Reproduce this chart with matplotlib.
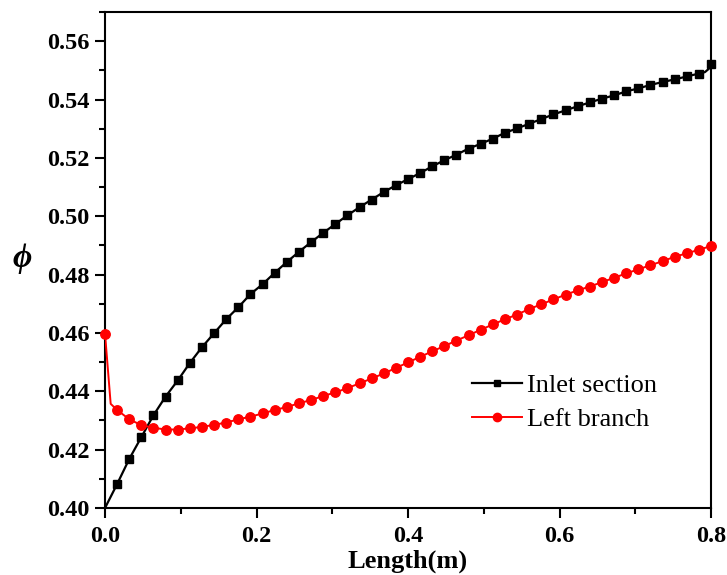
import matplotlib
matplotlib.use("Agg")
import matplotlib.pyplot as plt
from matplotlib.ticker import MultipleLocator
import numpy as np

# Data (x spacing 0.016 m, 51 points)
step = 0.016
length = [round(step * k, 3) for k in range(51)]

inlet_section = [0.4000, 0.4082, 0.4168, 0.4243, 0.4318, 0.4382, 0.4437, 0.4497,
                 0.4551, 0.4599, 0.4647, 0.4688, 0.4733, 0.4767, 0.4806, 0.4843,
                 0.4878, 0.4911, 0.4943, 0.4973, 0.5003, 0.5031, 0.5057, 0.5083,
                 0.5106, 0.5127, 0.5148, 0.5171, 0.5192, 0.5211, 0.5232, 0.5248,
                 0.5266, 0.5286, 0.5301, 0.5317, 0.5333, 0.5349, 0.5363, 0.5377,
                 0.5390, 0.5403, 0.5414, 0.5428, 0.5438, 0.5450, 0.5460, 0.5469,
                 0.5479, 0.5489, 0.5523]

left_branch = [0.4598, 0.4336, 0.4304, 0.4284, 0.4275, 0.4269, 0.4269, 0.4273,
               0.4278, 0.4285, 0.4293, 0.4304, 0.4313, 0.4324, 0.4336, 0.4346,
               0.4359, 0.4370, 0.4384, 0.4396, 0.4411, 0.4427, 0.4444, 0.4461,
               0.4480, 0.4499, 0.4518, 0.4537, 0.4555, 0.4574, 0.4592, 0.4611,
               0.4629, 0.4647, 0.4663, 0.4682, 0.4698, 0.4715, 0.4731, 0.4746,
               0.4759, 0.4774, 0.4789, 0.4804, 0.4818, 0.4832, 0.4846, 0.4861,
               0.4873, 0.4885, 0.4898]

# extra unmarked line points (sharp bends near the ends)
inlet_extra_x = [0.792, 0.797]
inlet_extra_y = [0.5494, 0.5505]
left_extra_x = [0.0075]
left_extra_y = [0.4357]

plt.rcParams['font.family'] = ['Liberation Serif', 'DejaVu Serif']

fig = plt.figure(figsize=(7.27, 5.75), dpi=100)
ax = fig.add_axes([105/727, 1-508/575, (711-105)/727, (508-12)/575])

# Inlet section
ix = length[:-1] + inlet_extra_x + [length[-1]]
iy = inlet_section[:-1] + inlet_extra_y + [inlet_section[-1]]
ax.plot(ix, iy, color='black', lw=1.6, zorder=3)
ax.plot(length[1:], inlet_section[1:], ls='none', marker='s', ms=6.2,
        color='black', zorder=4, clip_on=False)

# Left branch
lx = [length[0]] + left_extra_x + length[1:]
ly = [left_branch[0]] + left_extra_y + left_branch[1:]
ax.plot(lx, ly, color='#ff0000', lw=1.4, zorder=3)
ax.plot(length, left_branch, ls='none', marker='o', ms=6.8,
        color='#ff0000', zorder=4, clip_on=False)

# legend proxies
h1, = ax.plot([], [], color='black', lw=1.6, marker='s', ms=5)
h2, = ax.plot([], [], color='#ff0000', lw=1.4, marker='o', ms=6)
leg = ax.legend([h1, h2], ['Inlet section', 'Left branch'],
                loc='upper left', bbox_to_anchor=(472/727, 1-374/575),
                bbox_transform=fig.transFigure, frameon=False,
                prop={'family': 'Liberation Serif', 'size': 19},
                handlelength=1.9, handletextpad=0.2, borderpad=0,
                borderaxespad=0, labelspacing=0.4)

ax.set_xlim(0, 0.8)
ax.set_ylim(0.40, 0.57)
ax.xaxis.set_minor_locator(MultipleLocator(0.1))
ax.yaxis.set_minor_locator(MultipleLocator(0.01))
ax.set_yticks([0.40, 0.42, 0.44, 0.46, 0.48, 0.50, 0.52, 0.54, 0.56])
ax.set_xticks([0.0, 0.2, 0.4, 0.6, 0.8])
ax.set_xticklabels(['0.0', '0.2', '0.4', '0.6', '0.8'])
ax.set_yticklabels(['0.40', '0.42', '0.44', '0.46', '0.48', '0.50', '0.52', '0.54', '0.56'])

ax.tick_params(which='both', direction='out', width=1.5, top=False, right=False)
ax.tick_params(axis='x', which='major', length=7, pad=6)
ax.tick_params(axis='y', which='major', length=7, pad=4)
ax.tick_params(which='minor', length=4)
for lab in ax.get_xticklabels() + ax.get_yticklabels():
    lab.set_fontweight('bold')
    lab.set_fontsize(17.5)
for sp in ax.spines.values():
    sp.set_linewidth(1.5)

ax.set_xlabel('Length(m)', fontsize=19, fontweight='bold', labelpad=2)
fig.text(22/727, 1-258/575, '\u03d5', fontsize=24, fontstyle='italic',
         fontweight='bold', family=['Liberation Serif', 'DejaVu Serif'],
         ha='center', va='center')

fig.savefig('out.png', dpi=100)
